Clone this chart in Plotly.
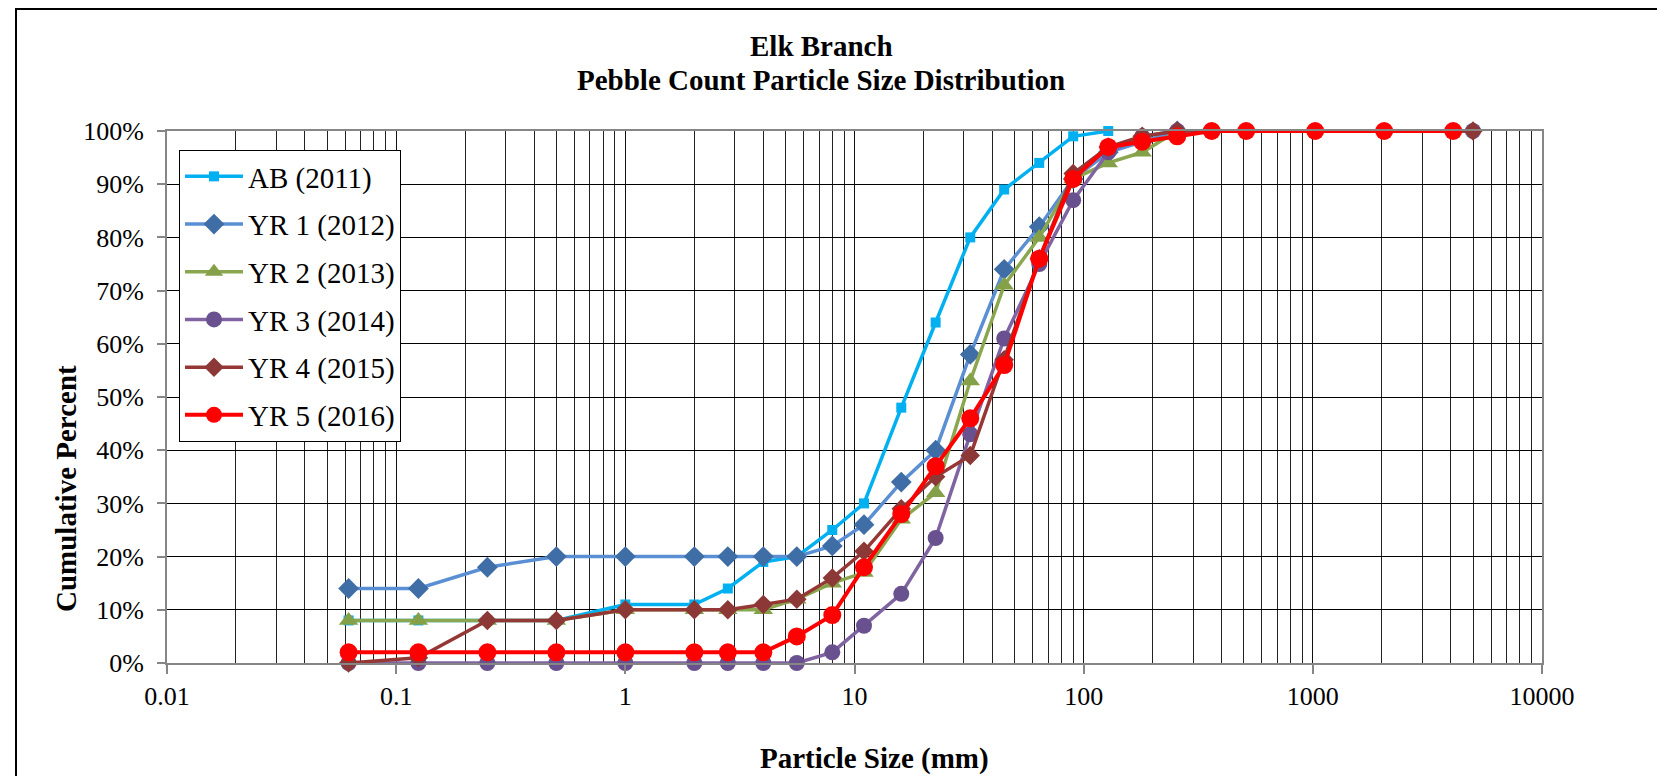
import plotly.graph_objects as go

# ---- data ----
sizes_ab = [0.062, 0.125, 0.25, 0.5, 1, 2, 2.8, 4, 5.6, 8, 11, 16, 22.6, 32, 45, 64, 90, 128]
ab_2011 = [8, 8, 8, 8, 11, 11, 14, 19, 20, 25, 30, 48, 64, 80, 89, 94, 99, 100]

sizes_yr12 = [0.062, 0.125, 0.25, 0.5, 1, 2, 2.8, 4, 5.6, 8, 11, 16, 22.6, 32, 45, 64, 90, 128, 180, 256]
yr1_2012 = [14, 14, 18, 20, 20, 20, 20, 20, 20, 22, 26, 34, 40, 58, 74, 82, 91, 96, 98, 100]
yr2_2013 = [8, 8, 8, 8, 10, 10, 10, 10, 12, 15, 17, 27, 32, 53, 71, 80, 91, 94, 96, 100]

sizes_yr34 = [0.062, 0.125, 0.25, 0.5, 1, 2, 2.8, 4, 5.6, 8, 11, 16, 22.6, 32, 45, 64, 90, 128, 180, 256, 5000]
yr3_2014 = [0, 0, 0, 0, 0, 0, 0, 0, 0, 2, 7, 13, 23.5, 43, 61, 75, 87, 96, 99, 100, 100]
yr4_2015 = [0, 1, 8, 8, 10, 10, 10, 11, 12, 16, 21, 29, 35, 39, 57, 76, 92, 97, 99, 100, 100]

sizes_yr5 = [0.062, 0.125, 0.25, 0.5, 1, 2, 2.8, 4, 5.6, 8, 11, 16, 22.6, 32, 45, 64, 90, 128, 180, 256,
             362, 512, 1024, 2048, 4096]
yr5_2016 = [2, 2, 2, 2, 2, 2, 2, 2, 5, 9, 18, 28, 37, 46, 56, 76, 91, 97, 98, 99, 100, 100, 100, 100, 100]

y_ticks = [0, 10, 20, 30, 40, 50, 60, 70, 80, 90, 100]
x_tick_vals = [0.01, 0.1, 1, 10, 100, 1000, 10000]
x_tick_text = ["0.01", "0.1", "1", "10", "100", "1000", "10000"]

series = [
    ("AB (2011)", sizes_ab, ab_2011, "#00B0F0", "#00B0F0", "square", 10),
    ("YR 1 (2012)", sizes_yr12, yr1_2012, "#5A8FD4", "#3F6DA6", "diamond", 16),
    ("YR 2 (2013)", sizes_yr12, yr2_2013, "#8AA64F", "#84A048", "triangle-up", 17),
    ("YR 3 (2014)", sizes_yr34, yr3_2014, "#8064A2", "#69518F", "circle", 16),
    ("YR 4 (2015)", sizes_yr34, yr4_2015, "#953735", "#8C3836", "diamond", 15),
    ("YR 5 (2016)", sizes_yr5, yr5_2016, "#FF0000", "#FF0000", "circle", 18),
]

FONT = "Liberation Serif, Times New Roman, serif"

fig = go.Figure()
for i, (name, xs, ys, lc, mc, sym, ms) in enumerate(series):
    fig.add_trace(go.Scatter(
        x=xs, y=ys, name=name, mode="lines+markers", legendgroup=f"g{i}",
        cliponaxis=False,
        line=dict(color=lc, width=4 if name.startswith("YR 5") else 3.5),
        marker=dict(symbol=sym, size=ms, color=mc, line=dict(width=0)),
    ))

# page offset of the figure (default body margin)
OFF = 8
# plot area in page pixels (as measured on the reference)
L, R, T, B = 167, 1542, 131, 663
W, H = R - L, B - T


def px(x):
    return (x - L) / W


def py(y):
    return (B - y) / H


fig.update_layout(
    width=1665, height=776,
    margin=dict(l=L - OFF, r=1665 - (R - OFF), t=T - OFF, b=776 - (B - OFF), autoexpand=False),
    paper_bgcolor="white", plot_bgcolor="white",
    font=dict(family=FONT, color="black"),
    showlegend=True,
    legend=dict(
        x=px(179), y=py(150), xanchor="left", yanchor="top",
        bgcolor="white", bordercolor="black", borderwidth=1,
        font=dict(family=FONT, size=29, color="black"),
        tracegroupgap=7, itemwidth=58,
    ),
    xaxis=dict(
        type="log", range=[-2, 4],
        tickmode="array", tickvals=x_tick_vals, ticktext=x_tick_text,
        tickfont=dict(family=FONT, size=26, color="black"),
        ticks="outside", ticklen=9, tickwidth=1.5, tickcolor="#868686",
        showgrid=True, gridcolor="#111111", gridwidth=1,
        minor=dict(dtick="D1", showgrid=True, gridcolor="#222222", gridwidth=1, ticks=""),
        showline=True, linecolor="#868686", linewidth=2, mirror=True,
        zeroline=False,
    ),
    yaxis=dict(
        range=[0, 100], tickmode="array", tickvals=y_ticks,
        ticktext=[f"{v}%" for v in y_ticks],
        tickfont=dict(family=FONT, size=26, color="black"),
        ticks="outside", ticklen=8, tickwidth=1.5, tickcolor="#868686",
        ticklabelstandoff=8,
        showgrid=True, gridcolor="#000000", gridwidth=1,
        showline=True, linecolor="#868686", linewidth=2, mirror=True,
        zeroline=False,
    ),
    annotations=[
        dict(text="<b>Elk Branch</b>", x=px(821), y=py(46), xref="paper", yref="paper",
             showarrow=False, xanchor="center", yanchor="middle",
             font=dict(family=FONT, size=29, color="black")),
        dict(text="<b>Pebble Count Particle Size Distribution</b>", x=px(821), y=py(80),
             xref="paper", yref="paper", showarrow=False, xanchor="center", yanchor="middle",
             font=dict(family=FONT, size=29, color="black")),
        dict(text="<b>Particle Size (mm)</b>", x=px(874), y=py(758), xref="paper", yref="paper",
             showarrow=False, xanchor="center", yanchor="middle",
             font=dict(family=FONT, size=29, color="black")),
        dict(text="<b>Cumulative Percent</b>", x=px(66), y=py(489), xref="paper", yref="paper",
             showarrow=False, xanchor="center", yanchor="middle", textangle=-90,
             font=dict(family=FONT, size=29, color="black")),
    ],
    shapes=[
        dict(type="rect", xref="paper", yref="paper",
             x0=px(16), x1=px(1720), y0=py(830), y1=py(9),
             line=dict(color="black", width=2), fillcolor="rgba(0,0,0,0)", layer="below"),
    ],
)

fig.write_html("out.html")
